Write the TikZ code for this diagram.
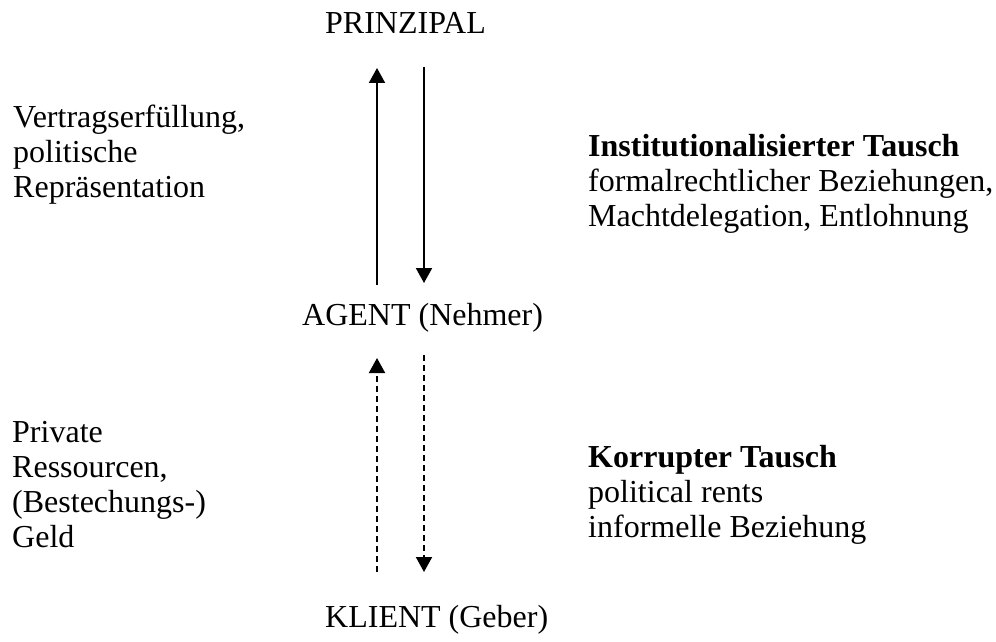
\documentclass[tikz,border=0pt]{standalone}
\usepackage{fontspec}
\setmainfont{Liberation Serif}
\usetikzlibrary{arrows.meta}
\begin{document}
\begin{tikzpicture}[x=1pt,y=-1pt,
  lbl/.style={font=\fontsize{32}{35}\selectfont, inner sep=0pt, align=left, anchor=base west},
  arr/.style={line width=2pt, -{Triangle[width=16pt,length=15pt]}},
  darr/.style={arr, dash pattern=on 6pt off 4pt}]
\useasboundingbox (0,0) rectangle (996,642);
\node[lbl] (prin) at (325,34) {PRINZIPAL};
\node[lbl] (agent) at (302,325) {AGENT (Nehmer)};
\node[lbl] (klient) at (325,627) {KLIENT (Geber)};
\node[lbl] (vert) at (13,197) {Vertragserfüllung,\\politische\\Repräsentation};
\node[lbl] (inst) at (588,226) {\textbf{Institutionalisierter Tausch}\\formalrechtlicher Beziehungen,\\Machtdelegation, Entlohnung};
\node[lbl] (priv) at (12,547) {Private\\Ressourcen,\\(Bestechungs-)\\Geld};
\node[lbl] (korr) at (588,537) {\textbf{Korrupter Tausch}\\political rents\\informelle Beziehung};
\coordinate (u1s) at (377,285);
\coordinate (u1e) at (377,68);
\coordinate (d1s) at (424,67);
\coordinate (d1e) at (424,283);
\coordinate (u2s) at (377,572);
\coordinate (u2e) at (377,358);
\coordinate (d2s) at (424,355);
\coordinate (d2e) at (424,572);
\draw[arr] (u1s) -- (u1e);
\draw[arr] (d1s) -- (d1e);
\draw[darr] (u2s) -- (u2e);
\draw[darr] (d2s) -- (d2e);
\end{tikzpicture}
\end{document}
